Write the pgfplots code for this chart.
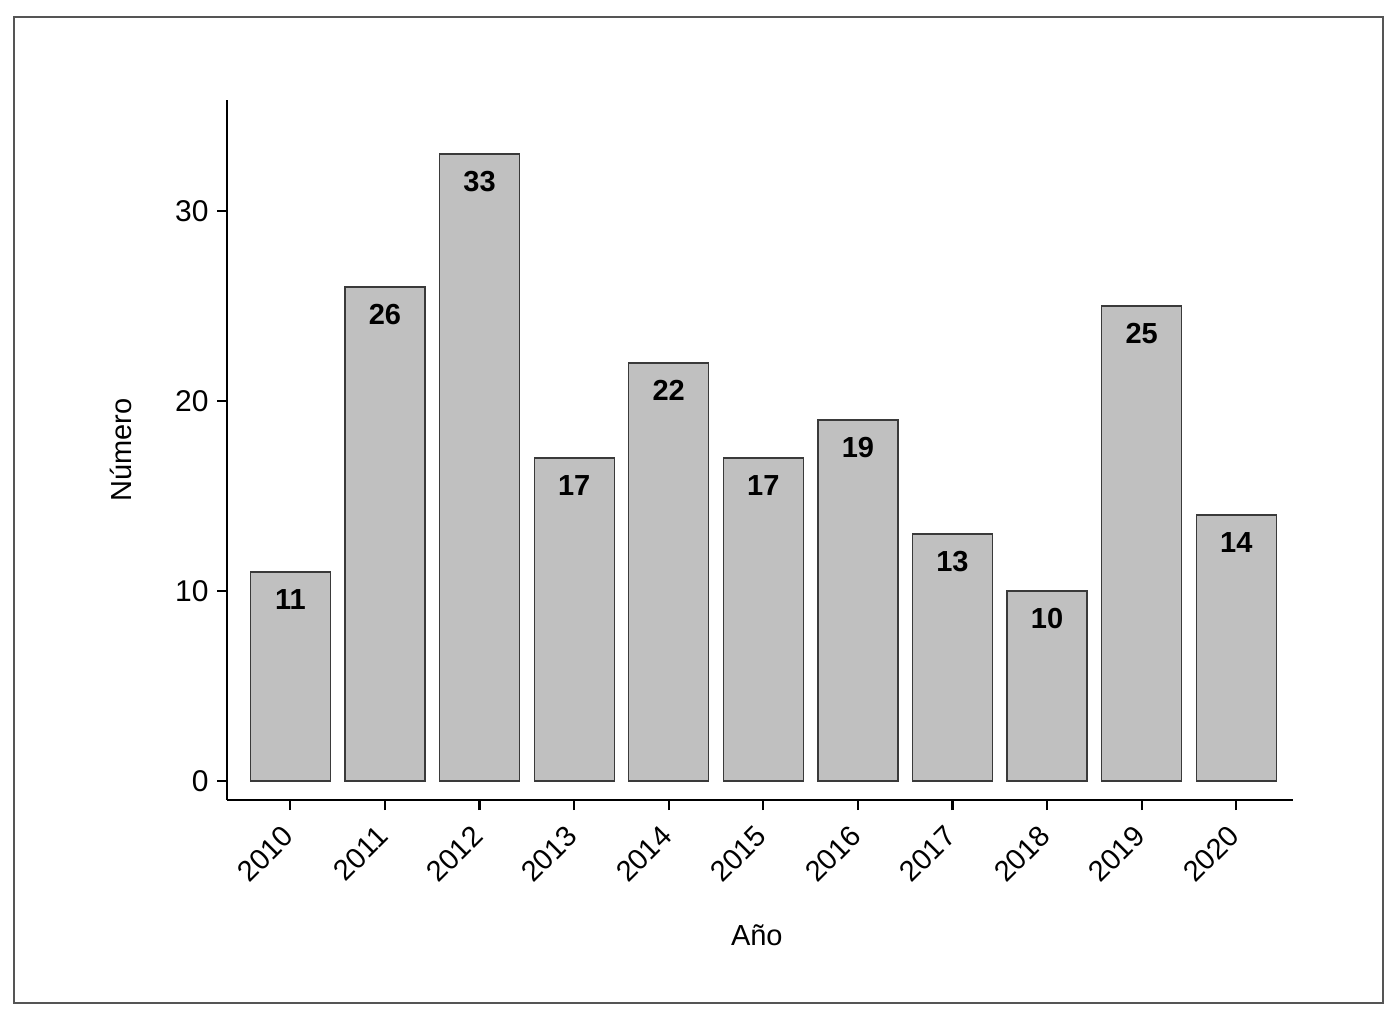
\documentclass[border=0pt]{standalone}
\usepackage{pgfplots}
\pgfplotsset{compat=1.18}
\usepackage{fontspec}
\setmainfont{Liberation Sans}
\definecolor{barfill}{HTML}{C0C0C0}
\definecolor{baredge}{HTML}{3A3A3A}
\definecolor{framec}{HTML}{555555}
\begin{document}
\begin{tikzpicture}
\path (0,0) rectangle (700pt,511.5pt);
\draw[framec, line width=0.6pt] (7pt,10pt) rectangle (691.5pt,503pt);
\begin{axis}[
  at={(113.5pt,111.5pt)}, anchor=south west,
  scale only axis, width=533pt, height=350pt,
  xmin=-0.67, xmax=10.6, ymin=-1.0, ymax=35.84,
  axis lines*=left,
  axis line style={line width=1.3pt, black},
  x axis line style={-}, y axis line style={-},
  xtick={0,...,10},
  xticklabels={2010,2011,2012,2013,2014,2015,2016,2017,2018,2019,2020},
  ytick={0,10,20,30},
  tick style={line width=1.1pt, black},
  tick align=outside, major tick length=5pt,
  xticklabel style={xshift=-4.7pt, yshift=-5.3pt, rotate=45, anchor=north east, font=\fontsize{14.5}{16}\selectfont, inner sep=1pt},
  yticklabel style={font=\fontsize{15}{17}\selectfont, inner sep=1pt, xshift=-3pt},
  /pgf/number format/assume math mode=true,
  ybar, bar width=40pt,
  nodes near coords,
  every node near coord/.append style={anchor=north, font=\bfseries\fontsize{14.5}{16}\selectfont, yshift=-5pt, black},
  clip=false,
]
\addplot[fill=barfill, draw=baredge, line width=0.6pt] coordinates {
(0,11) (1,26) (2,33) (3,17) (4,22) (5,17) (6,19) (7,13) (8,10) (9,25) (10,14)};
\node[font=\fontsize{14.5}{16}\selectfont] at (axis description cs:0.497,-0.1929) {Año};
\node[font=\fontsize{14.5}{16}\selectfont, rotate=90] at (axis description cs:-0.0994,0.5) {Número};
\end{axis}
\end{tikzpicture}
\end{document}
